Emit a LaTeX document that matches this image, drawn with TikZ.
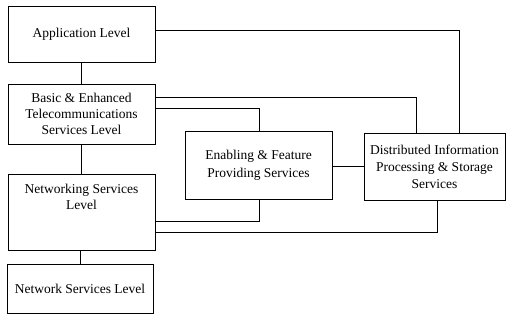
\documentclass[tikz,border=0pt]{standalone}
\usepackage{fontspec}
\setmainfont{Liberation Serif}
\begin{document}
\begin{tikzpicture}[x=1pt,y=-1pt,
  box/.style={draw, line width=0.8pt, rectangle, inner sep=0pt, align=center,
    font=\fontsize{13.5}{16}\selectfont},
  conn/.style={draw, line width=0.8pt}]
\useasboundingbox (0,0) rectangle (507,324);
\node[box, minimum width=147, minimum height=56] (app) at (81.5,34) {Application Level};
\node[box, minimum width=147, minimum height=60] (basic) at (81.5,114) {Basic \& Enhanced\\Telecommunications\\Services Level};
\node[box, minimum width=147, minimum height=76,
  label={[align=center, font=\fontsize{13.5}{16}\selectfont, yshift=15]center:Networking Services\\Level}] (netw) at (81.5,212) {};
\node[box, minimum width=146, minimum height=49] (nsl) at (80,288.5) {Network Services Level};
\node[box, minimum width=147, minimum height=68, font=\fontsize{13.5}{18}\selectfont] (enab) at (258.5,165) {Enabling \& Feature\\Providing Services};
\node[box, minimum width=141, minimum height=67, font=\fontsize{13.5}{17}\selectfont] (dist) at (434.5,166.5) {Distributed Information\\Processing \& Storage\\Services};
\draw[conn] (app.south -| 81,0) -- (basic.north -| 81,0);
\draw[conn] (basic.south -| 81,0) -- (netw.north -| 81,0);
\draw[conn] (netw.south -| 80,0) -- (nsl.north -| 80,0);
\draw[conn] (app.east |- 0,30) -| (dist.north -| 459,0);
\draw[conn] (basic.east |- 0,97) -| (dist.north -| 416,0);
\draw[conn] (basic.east |- 0,108) -| (enab.north -| 259,0);
\draw[conn] (enab.east |- 0,166) -- (dist.west |- 0,166);
\draw[conn] (netw.east |- 0,221) -| (enab.south -| 259,0);
\draw[conn] (netw.east |- 0,232) -| (dist.south -| 437,0);
\end{tikzpicture}
\end{document}
